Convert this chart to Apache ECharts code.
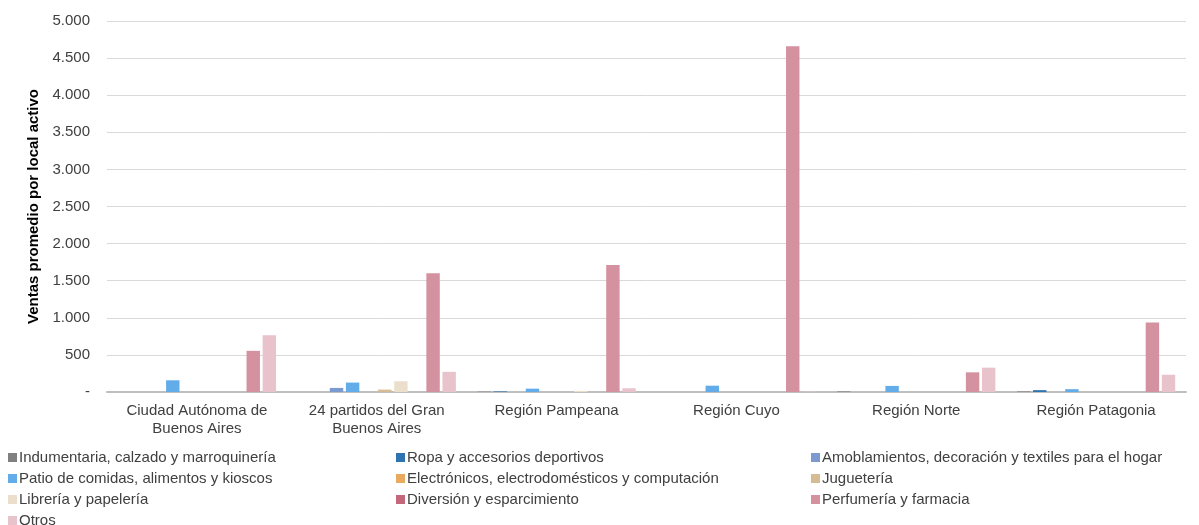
<!DOCTYPE html>
<html><head><meta charset="utf-8">
<script src="https://cdn.jsdelivr.net/npm/echarts@6/dist/echarts.min.js"></script>
<style>html,body{margin:0;padding:0;background:#fff}#c{width:1199px;height:525px}</style>
</head><body><div id="c"></div>
<script>
const categories = ["Ciudad Autónoma de\nBuenos Aires","24 partidos del Gran\nBuenos Aires","Región Pampeana","Región Cuyo","Región Norte","Región Patagonia"];
const seriesNames = ["Indumentaria, calzado y marroquinería","Ropa y accesorios deportivos","Amoblamientos, decoración y textiles para el hogar","Patio de comidas, alimentos y kioscos","Electrónicos, electrodomésticos y computación","Juguetería","Librería y papelería","Diversión y esparcimiento","Perfumería y farmacia","Otros"];
const indumentaria = [0, 0, 5, 0, 8, 8];
const ropa = [0, 0, 8, 0, 0, 25];
const amoblamientos = [0, 55, 0, 0, 0, 0];
const patio = [158, 127, 45, 85, 82, 38];
const electronicos = [0, 0, 0, 0, 0, 0];
const jugueteria = [0, 32, 0, 0, 0, 0];
const libreria = [0, 145, 15, 0, 0, 0];
const diversion = [0, 0, 0, 0, 0, 0];
const perfumeria = [555, 1600, 1710, 4660, 265, 938];
const otros = [765, 272, 50, 5, 328, 233];
const yTicks = [0, 500, 1000, 1500, 2000, 2500, 3000, 3500, 4000, 4500, 5000];
const colors = ["#808080","#2f73b0","#7b9bd0","#62ade9","#e8aa5e","#d6bc95","#ebdfcb","#c4677a","#d4919f","#e9c3cb"];
const values = [indumentaria, ropa, amoblamientos, patio, electronicos, jugueteria, libreria, diversion, perfumeria, otros];

const font = "'Liberation Sans', Arial, sans-serif";
const legendBase = {orient:'vertical', top:450, padding:0, height:90, itemWidth:9, itemHeight:9, itemGap:6,
  textStyle:{fontFamily:font, fontSize:15, color:'#404040', padding:[0,0,0,-3]}, icon:'rect'};
const chart = echarts.init(document.getElementById('c'));
chart.setOption({
  animation:false,
  color: colors,
  textStyle:{fontFamily:font},
  grid:{left:107, right:13, top:21, bottom:133, containLabel:false},
  legend:[
    Object.assign({}, legendBase, {left:8, data:[seriesNames[0],seriesNames[3],seriesNames[6],seriesNames[9]]}),
    Object.assign({}, legendBase, {left:396, data:[seriesNames[1],seriesNames[4],seriesNames[7]]}),
    Object.assign({}, legendBase, {left:811, data:[seriesNames[2],seriesNames[5],seriesNames[8]]})
  ],
  xAxis:{type:'category', data:categories,
    axisLine:{lineStyle:{color:'#bfbfbf', width:2}}, axisTick:{show:false},
    axisLabel:{interval:0, fontFamily:font, fontSize:15, color:'#404040', margin:10, lineHeight:18}},
  yAxis:{type:'value', min:0, max:5000, interval:500,
    name:'Ventas promedio por local activo', nameLocation:'middle', nameGap:55,
    nameTextStyle:{fontFamily:font, fontSize:15, fontWeight:'bold', color:'#000'},
    axisLine:{show:false}, axisTick:{show:false},
    splitLine:{lineStyle:{color:'#d9d9d9', width:1}},
    axisLabel:{fontFamily:font, fontSize:15, color:'#404040', margin:17,
      formatter:v => v===0 ? '-' : v.toLocaleString('de-DE')}},
  series: seriesNames.map((n,i)=>({name:n, type:'bar', data:values[i],
    barGap:'20%', barCategoryGap:'12%', itemStyle:{color:colors[i]}}))
});
</script></body></html>
